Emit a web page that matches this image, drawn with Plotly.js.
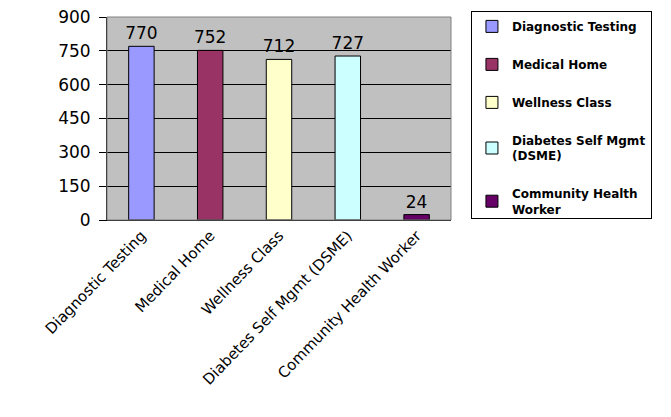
<!DOCTYPE html>
<html><head><meta charset="utf-8">
<script src="https://cdn.plot.ly/plotly-3.0.1.min.js"></script>
<style>body{margin:0;background:#fff}#chart{width:671px;height:417px}</style>
</head><body><div id="chart"></div>
<script>
const categories = ["Diagnostic Testing","Medical Home","Wellness Class","Diabetes Self Mgmt (DSME)","Community Health Worker"];
const legendNames = ["Diagnostic Testing","Medical Home","Wellness Class","Diabetes Self Mgmt<br>(DSME)","Community Health<br>Worker"];
const values = [770, 752, 712, 727, 24];
const colors = ["#9999FF","#993366","#FFFFCC","#CCFFFF","#660066"];
const yTicks = [0,150,300,450,600,750,900];

const traces = categories.map((c,i)=>({
  type:'bar', x:[c], y:[values[i]], name:legendNames[i],
  legendgroup:'g'+i,
  marker:{color:colors[i], line:{color:'#000', width:1}},
  text:[String(values[i])], textposition:'outside', cliponaxis:false,
  constraintext:'none',
  textfont:{family:'DejaVu Sans', size:17, color:'#000'},
  width:0.37, hoverinfo:'skip'
}));

const layout = {
  width:671, height:417,
  margin:{l:107, r:220, t:16, b:197},
  paper_bgcolor:'#fff', plot_bgcolor:'#C0C0C0',
  barmode:'group', showlegend:true,
  xaxis:{type:'category', categoryarray:categories, tickangle:-46,
    tickfont:{family:'DejaVu Sans', size:15, color:'#000'},
    showline:true, linecolor:'#000', linewidth:1, ticks:'', showgrid:false, fixedrange:true},
  yaxis:{range:[0,900], tickvals:yTicks, ticktext:yTicks.map(String),
    tickfont:{family:'DejaVu Sans', size:17, color:'#000'},
    showgrid:true, gridcolor:'#000', gridwidth:1, zeroline:false,
    showline:true, linecolor:'#000', linewidth:1, ticks:'outside', ticklen:7, tickcolor:'#000',
    ticklabelstandoff:5, fixedrange:true},
  legend:{x:1.058, xanchor:'left', y:1.025, yanchor:'top',
    bgcolor:'#fff', bordercolor:'#000', borderwidth:1,
    font:{family:'DejaVu Sans', size:12, color:'#000', weight:'bold'},
    tracegroupgap:19, itemwidth:30},
  shapes:[{type:'rect', xref:'paper', yref:'paper', x0:0, x1:1, y0:0, y1:1,
    line:{color:'#808080', width:1}, fillcolor:'rgba(0,0,0,0)', layer:'above'}]
};
Plotly.newPlot('chart', traces, layout, {displayModeBar:false, staticPlot:true});
</script></body></html>
